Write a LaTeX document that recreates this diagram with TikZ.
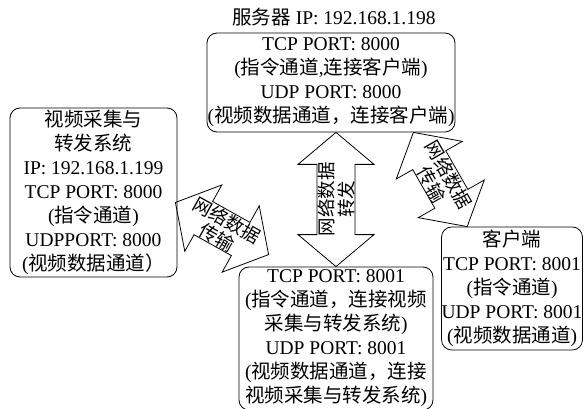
\documentclass[tikz,border=0pt]{standalone}
\usepackage{fontspec}
\setmainfont{Liberation Serif}
\newfontfamily\cjk{Noto Sans CJK SC}
\newcommand{\zh}[1]{{\cjk #1}}
\usetikzlibrary{calc}

\tikzset{
	box/.style={draw, line width=0.8pt, rounded corners=10pt, align=center, inner sep=0pt,
		font=\fontsize{19.5}{24}\selectfont},
	fatarrow/.style={draw, line width=0.8pt, line join=miter},
	arrowtxt/.style={align=center, inner sep=0pt, font=\fontsize{18.5}{20}\selectfont},
}

% fat double arrow from #1 to #2 with text #3
\newcommand{\netarrow}[3]{%
	\draw[fatarrow] (#1)
		-- ($(#1)!32pt!(#2)!38pt!90:(#2)$) -- ($(#1)!32pt!(#2)!19pt!90:(#2)$)
		-- ($(#2)!32pt!(#1)!19pt!-90:(#1)$) -- ($(#2)!32pt!(#1)!38pt!-90:(#1)$)
		-- (#2)
		-- ($(#2)!32pt!(#1)!38pt!90:(#1)$) -- ($(#2)!32pt!(#1)!19pt!90:(#1)$)
		-- ($(#1)!32pt!(#2)!19pt!-90:(#2)$) -- ($(#1)!32pt!(#2)!38pt!-90:(#2)$)
		-- cycle;
	\path (#1) -- node[sloped, arrowtxt] {#3} (#2);
}

\begin{document}
\begin{tikzpicture}[x=1pt, y=-1pt]
	\useasboundingbox (0,0) rectangle (584,409);

	% Server
	\node (srvip) at (334,17) {\fontsize{19.5}{24}\selectfont\zh{服务器} IP: 192.168.1.198};
	\node[box, minimum width=248pt, minimum height=99pt] (srv) at (331,82.5)
		{TCP PORT: 8000\\(\zh{指令通道},\zh{连接客户端})\\UDP PORT: 8000\\(\zh{视频数据通道，连接客户端})};

	% Video capture and forwarding
	\node[box, minimum width=167pt, minimum height=169pt] (vid) at (93.5,192.5)
		{\zh{视频采集与}\\\zh{转发系统}\\IP: 192.168.1.199\\TCP PORT: 8000\\(\zh{指令通道})\\UDPPORT: 8000\\(\zh{视频数据通道）}};

	% Forwarding server ports
	\node[box, minimum width=194pt, minimum height=143pt] (mid) at (336,338.5)
		{TCP PORT: 8001\\(\zh{指令通道，连接视频}\\\zh{采集与转发系统})\\UDP PORT: 8001\\(\zh{视频数据通道，连接}\\\zh{视频采集与转发系统})};

	% Client
	\node[box, minimum width=140pt, minimum height=123pt] (cli) at (512,288.5)
		{\zh{客户端}\\TCP PORT: 8001\\(\zh{指令通道})\\UDP PORT: 8001\\(\zh{视频数据通道})};

	% Arrows
	\coordinate (vidout) at ($(vid.east)+(-2,10)$);
	\coordinate (midin) at ($(mid.north west)+(30,-12)$);
	\coordinate (srvup) at (mid.north |- srv.south);
	\coordinate (srvout) at ($(srv.south east)+(-42,0)$);
	\coordinate (cliin) at ($(cli.north west)+(26,0)$);

	\netarrow{vidout}{midin}{\zh{网络数据}\\\zh{传输}}
	\netarrow{mid.north}{srvup}{\zh{网络数据}\\\zh{转发}}
	\netarrow{srvout}{cliin}{\zh{网络数据}\\\zh{传输}}
\end{tikzpicture}
\end{document}
